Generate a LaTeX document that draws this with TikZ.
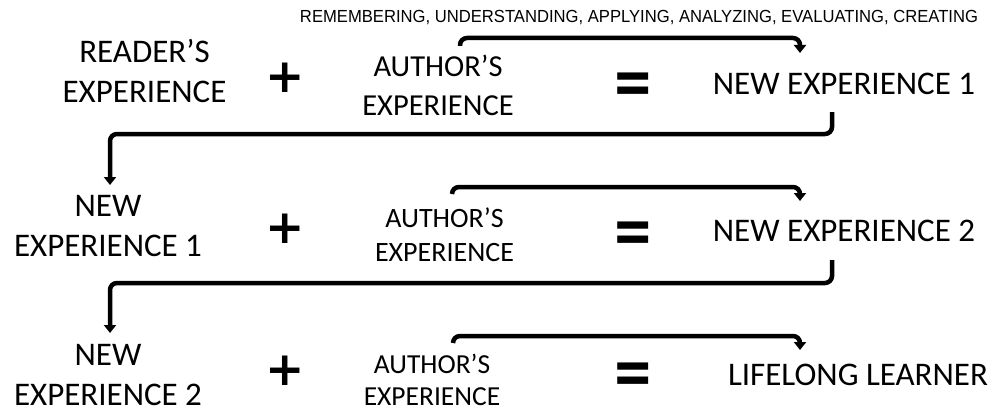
\documentclass[tikz,border=0pt]{standalone}
\usepackage{fontspec}
\usepackage{graphicx}
\setmainfont{Carlito}
\newfontfamily\arialf{Liberation Sans}
\newfontfamily\opfont{DejaVu Sans}
\usetikzlibrary{arrows.meta}
\begin{document}
\begin{tikzpicture}[x=1pt,y=-1pt,
  lbl/.style={inner sep=0pt, align=center, font=\fontsize{33}{40}\selectfont},
  lblmid/.style={inner sep=0pt, align=center, font=\fontsize{30.5}{39}\selectfont},
  lblsm/.style={inner sep=0pt, align=center, font=\fontsize{28}{34}\selectfont},
  lblsmb/.style={inner sep=0pt, align=center, font=\fontsize{27.5}{32}\selectfont},
  op/.style={inner sep=0pt, font=\fontsize{47}{47}\opfont\bfseries},
  conn/.style={line width=4.5pt, rounded corners=7pt, -{Triangle[width=12pt,length=8pt]}},
]
\useasboundingbox (0,0) rectangle (995,412);

% top label
\node[inner sep=0pt, font=\fontsize{17.5}{17.5}\selectfont\arialf] (bloom) at (639,18)
  {\resizebox{678pt}{\height}{REMEMBERING, UNDERSTANDING, APPLYING, ANALYZING, EVALUATING, CREATING}};

% row 1
\node[lbl] (rexp) at (144.5,70.8) {READER’S\\EXPERIENCE};
\node[op] (p1) at (285,78) {+};
\node[lblmid] (aexp1) at (438,85) {AUTHOR’S\\EXPERIENCE};
\node[op] (q1) at (633,88) {\scalebox{1.05}[1.35]{=}};
\node[lbl, anchor=base] (ne1) at (844,94) {NEW EXPERIENCE 1};

% row 2
\node[lbl] (ne1b) at (108,225.7) {NEW\\EXPERIENCE 1};
\node[op] (p2) at (285,229) {+};
\node[lblsm] (aexp2) at (444.5,235) {AUTHOR’S\\EXPERIENCE};
\node[op] (q2) at (633,237) {\scalebox{1.05}[1.35]{=}};
\node[lbl, anchor=base] (ne2) at (844,241) {NEW EXPERIENCE 2};

% row 3
\node[lbl] (ne2b) at (108,375) {NEW\\EXPERIENCE 2};
\node[op] (p3) at (285,371) {+};
\node[lblsmb] (aexp3) at (432,380) {AUTHOR’S\\EXPERIENCE};
\node[op] (q3) at (633,378) {\scalebox{1.05}[1.35]{=}};
\node[lbl, anchor=base] (ll) at (858,385) {LIFELONG LEARNER};

% connector end points
\coordinate (a1s) at (460,46);
\coordinate (a1e) at (800,53);
\coordinate (a2s) at (452,194);
\coordinate (a2e) at (800,201);
\coordinate (a3s) at (453,343);
\coordinate (a3e) at (800,350);
\coordinate (b1s) at (832,112);
\coordinate (b1e) at (110,185);
\coordinate (b2s) at (832,260);
\coordinate (b2e) at (110,333);

% small arrows
\draw[conn] (a1s) -- ++(0,-8) -| (a1e);
\draw[conn] (a2s) -- ++(0,-7) -| (a2e);
\draw[conn] (a3s) -- ++(0,-7) -| (a3e);

% big connectors
\draw[conn] (b1s) -- ++(0,22) -| (b1e);
\draw[conn] (b2s) -- ++(0,23) -| (b2e);
\end{tikzpicture}
\end{document}
